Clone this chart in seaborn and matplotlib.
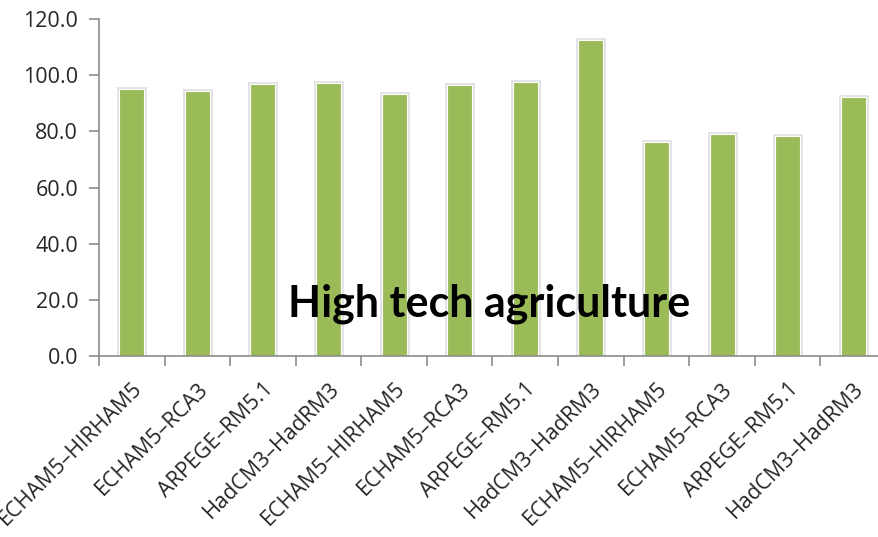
import matplotlib
matplotlib.use("Agg")
import matplotlib.pyplot as plt
import matplotlib.patheffects as pe
import seaborn as sns
import pandas as pd
import numpy as np

models = ["ECHAM5–HIRHAM5", "ECHAM5–RCA3", "ARPEGE–RM5.1", "HadCM3–HadRM3",
          "ECHAM5–HIRHAM5", "ECHAM5–RCA3", "ARPEGE–RM5.1", "HadCM3–HadRM3",
          "ECHAM5–HIRHAM5", "ECHAM5–RCA3", "ARPEGE–RM5.1", "HadCM3–HadRM3"]
values = [95.2, 94.4, 96.7, 97.1, 93.4, 96.6, 97.6, 112.5, 76.2, 79.2, 78.2, 92.3]
y_ticks = [0, 20, 40, 60, 80, 100, 120]
title = "High tech agriculture"

sns.set_style("white")
plt.rcParams["font.family"] = ["Open Sans", "DejaVu Sans"]

df = pd.DataFrame({"slot": [str(i) for i in range(len(models))], "value": values})

W, H = 879, 537
fig = plt.figure(figsize=(W / 100, H / 100), dpi=100)
ax = fig.add_axes([99 / W, (H - 356) / H, (886 - 99) / W, (356 - 19) / H])

sns.barplot(data=df, x="slot", y="value", color="#9BBB59", saturation=1,
            width=0.38, ax=ax, edgecolor="white", linewidth=0.8)
for bar in ax.patches:
    bar.set_path_effects([pe.Stroke(linewidth=3.5, foreground="#e3e3e3"), pe.Normal()])

ax.set_xlim(-0.5, len(models) - 0.5)
ax.set_ylim(0, 120)
ax.set_yticks(y_ticks)
ax.set_yticklabels([f"{v:.1f}" for v in y_ticks], fontsize=15.5)

ax.set_xticks(np.arange(len(models)))
ax.set_xticklabels(models, rotation=45, ha="right", rotation_mode="anchor", fontsize=15.5)
ax.set_xticks(np.arange(-0.5, len(models), 1), minor=True)
ax.tick_params(axis="x", which="major", length=0, pad=16)
ax.tick_params(axis="x", which="minor", length=7, width=1.2, color="#8c8c8c", direction="out")
ax.tick_params(axis="y", length=7, width=1.2, color="#8c8c8c", direction="out", pad=8)
ax.xaxis.set_ticks_position("bottom")
ax.yaxis.set_ticks_position("left")

sns.despine(ax=ax, top=True, right=True)
for side in ("left", "bottom"):
    ax.spines[side].set_color("#8c8c8c")
    ax.spines[side].set_linewidth(1.2)
ax.set_xlabel("")
ax.set_ylabel("")

ax.text(5.45, 18.5, title, ha="center", va="center", fontsize=31,
        fontweight="bold", family=["Lato", "DejaVu Sans"], color="black")

fig.savefig("out.png", dpi=100)
